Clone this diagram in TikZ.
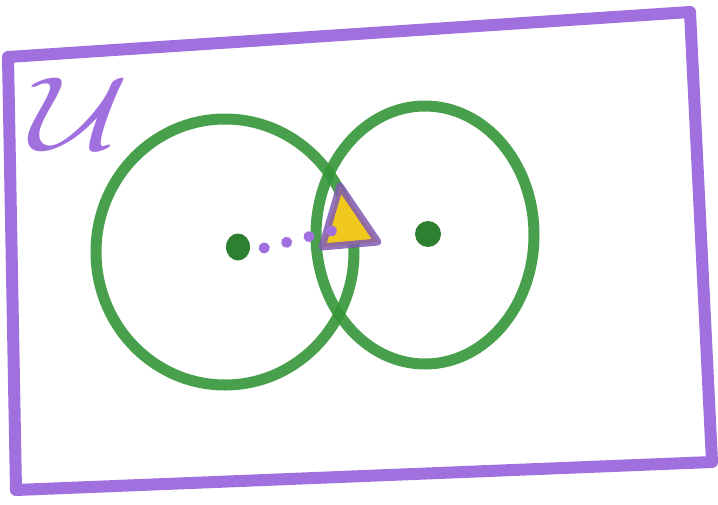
\documentclass[tikz,border=0pt]{standalone}
\usepackage{amsmath}
\usetikzlibrary{shapes.geometric}
\definecolor{upurple}{RGB}{160,112,222}
\definecolor{ugreen}{RGB}{52,150,56}
\definecolor{uyellow}{RGB}{240,200,30}
\tikzset{
  setring/.style={ellipse, draw=ugreen, line width=11pt, inner sep=0pt, opacity=0.9},
  gdot/.style={ellipse, fill=ugreen!85!black, inner sep=0pt, minimum width=24pt, minimum height=27pt},
  frameline/.style={draw=upurple, line width=12pt, line join=round, line cap=round},
  dotline/.style={draw=upurple, line width=11pt, line cap=round, dash pattern=on 0.1pt off 23pt},
}
\begin{document}
\begin{tikzpicture}[x=1pt,y=-1pt]
\useasboundingbox (0,0) rectangle (718,504);
% universe frame
\draw[frameline] (8,57) -- (690,12) -- (712,462) -- (16,490) -- cycle;
\node[text=upurple, inner sep=0pt, scale=4.2, xscale=1.3, font=\Huge] (ulabel) at (80,114) {$\mathcal{U}$};
% sets
\node[setring, minimum width=258pt, minimum height=266pt] (setA) at (225,252) {};
\node[setring, minimum width=218pt, minimum height=258pt] (setB) at (425,235) {};
% points
\node[gdot] (pa) at (238,247) {};
\node[gdot, minimum width=26pt, minimum height=26pt] (pb) at (428,234) {};
% triangle
\coordinate (t1) at (340,186);
\coordinate (t2) at (322,247);
\coordinate (t3) at (378,242);
\coordinate (tc) at (347,227);
\fill[uyellow] (t1) -- (t2) -- (t3) -- cycle;
\draw[draw=upurple!80!black, line width=7pt, line join=round, opacity=0.85] (t1) -- (t2) -- (t3) -- cycle;
% dotted connector
\draw[dotline] (pa.east) ++(14,1) -- (tc);
\end{tikzpicture}
\end{document}
